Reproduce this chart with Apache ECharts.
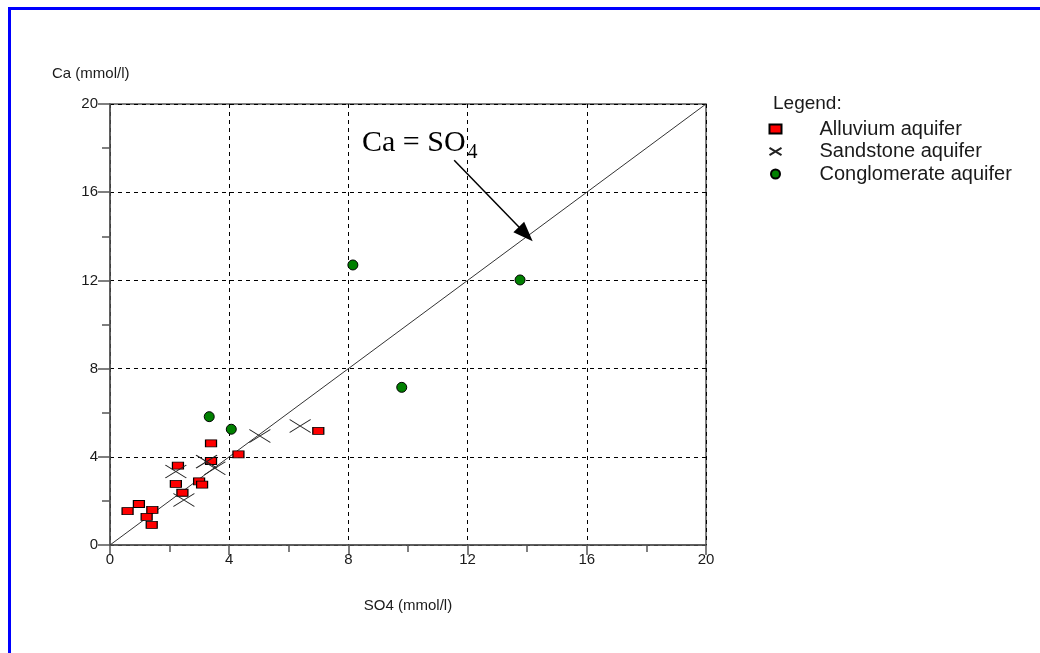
<!DOCTYPE html>
<html>
<head>
<meta charset="utf-8">
<script src="https://cdn.jsdelivr.net/npm/echarts@6/dist/echarts.min.js"></script>
<style>html,body{margin:0;padding:0;background:#fff;}#c{width:1040px;height:653px;}</style>
</head>
<body>
<div id="c"></div>
<script>
// Data (SO4 mmol/l, Ca mmol/l)
const seriesNames = ['Alluvium aquifer', 'Sandstone aquifer', 'Conglomerate aquifer'];
const alluvium = [[0.59,1.54],[0.97,1.86],[1.42,1.59],[1.23,1.28],[1.40,0.91],[2.21,2.77],[2.43,2.37],[2.28,3.60],[2.99,2.89],[3.09,2.74],[3.39,4.61],[3.39,3.81],[4.31,4.11],[6.99,5.18]];
const sandstone = [[2.21,3.33],[2.48,2.04],[3.24,3.78],[3.52,3.48],[5.03,4.94],[6.38,5.40]];
const conglomerate = [[3.33,5.82],[4.07,5.25],[8.15,12.70],[13.76,12.02],[9.79,7.15]];
const equalityLine = [[0,0],[20,20]];
const arrowFrom = [11.55, 17.45];
const arrowTo = [13.95, 14.1];
const axisMin = 0, axisMax = 20, axisStep = 4;

const font = 'Liberation Sans, Arial, sans-serif';
const chart = echarts.init(document.getElementById('c'));
const axisCommon = {
  type: 'value', min: axisMin, max: axisMax, interval: axisStep,
  axisLine: {show: true, onZero: false, lineStyle: {color: '#555', width: 1.5}},
  splitLine: {show: true, lineStyle: {color: '#000', width: 1, type: [4, 4]}},
  minorSplitLine: {show: false},
  axisLabel: {color: '#1a1a1a', fontFamily: font, fontSize: 15},
  nameTextStyle: {color: '#1a1a1a', fontFamily: font, fontSize: 15}
};
chart.setOption({
  animation: false,
  grid: {left: 110, top: 104, width: 596, height: 441, show: true, borderColor: '#555', borderWidth: 1.5,
         backgroundColor: 'transparent', containLabel: false, outerBoundsMode: 'none'},
  title: {text: 'Legend:', left: 768, top: 89, textStyle: {fontFamily: font, fontSize: 19, fontWeight: 'normal', color: '#1a1a1a'}},
  legend: {
    orient: 'vertical', left: 762, top: 114, itemWidth: 12, itemHeight: 9, itemGap: 2.5,
    data: seriesNames,
    textStyle: {fontFamily: font, fontSize: 20, lineHeight: 20, color: '#1a1a1a', padding: [0, 0, 0, 33]}
  },
  xAxis: Object.assign({}, axisCommon, {
    name: 'SO4 (mmol/l)', nameLocation: 'middle', nameGap: 53,
    axisTick: {show: true, length: 10, lineStyle: {color: '#555', width: 1.5}},
    minorTick: {show: true, splitNumber: 2, length: 7, lineStyle: {color: '#555', width: 1.5}},
    axisLabel: Object.assign({}, axisCommon.axisLabel, {margin: 7})
  }),
  yAxis: Object.assign({}, axisCommon, {
    name: 'Ca (mmol/l)', nameLocation: 'end', nameGap: 23,
    nameTextStyle: Object.assign({}, axisCommon.nameTextStyle, {align: 'left', padding: [0, 0, 0, -58]}),
    axisTick: {show: true, length: 12, lineStyle: {color: '#555', width: 1.5}},
    minorTick: {show: true, splitNumber: 2, length: 8, lineStyle: {color: '#555', width: 1.5}},
    axisLabel: Object.assign({}, axisCommon.axisLabel, {margin: 12})
  }),
  series: [
    {
      name: 'Ca = SO4', type: 'line', data: equalityLine, symbol: 'none', silent: true,
      lineStyle: {color: '#333', width: 1}, z: 1,
      markLine: {
        silent: true, symbol: ['none', 'triangle'], symbolSize: [15, 20],
        label: {show: false},
        lineStyle: {color: '#000', width: 1.5, type: 'solid'},
        data: [[{coord: arrowFrom}, {coord: arrowTo}]]
      }
    },
    {
      name: seriesNames[0], type: 'scatter', data: alluvium, symbol: 'rect', symbolSize: [11, 7],
      itemStyle: {color: '#ff0000', borderColor: '#000', borderWidth: 1, opacity: 1}, z: 3
    },
    {
      name: seriesNames[1], type: 'scatter', data: sandstone,
      symbol: 'path://M0,0L20,12M0,12L20,0', symbolSize: [21, 13],
      itemStyle: {color: 'none', borderColor: '#222', borderWidth: 1, opacity: 1}, z: 4
    },
    {
      name: seriesNames[2], type: 'scatter', data: conglomerate, symbol: 'circle', symbolSize: 10,
      itemStyle: {color: '#008000', borderColor: '#000', borderWidth: 1, opacity: 1}, z: 3
    }
  ],
  graphic: [
    {type: 'rect', silent: true, z: 100, shape: {x: 9.5, y: 8.5, width: 1200, height: 800},
     style: {fill: 'none', stroke: '#0000ff', lineWidth: 3}},
    {type: 'text', silent: true, z: 100, left: 362, top: 128,
     style: {text: '{a|Ca = SO}{s|4}', rich: {
       a: {fontFamily: 'Liberation Serif, Times New Roman, serif', fontSize: 30, fill: '#000', verticalAlign: 'bottom'},
       s: {fontFamily: 'Liberation Serif, Times New Roman, serif', fontSize: 20, fill: '#000', verticalAlign: 'bottom', padding: [0, 0, -5, 2]}
     }}}
  ]
});
</script>
</body>
</html>
